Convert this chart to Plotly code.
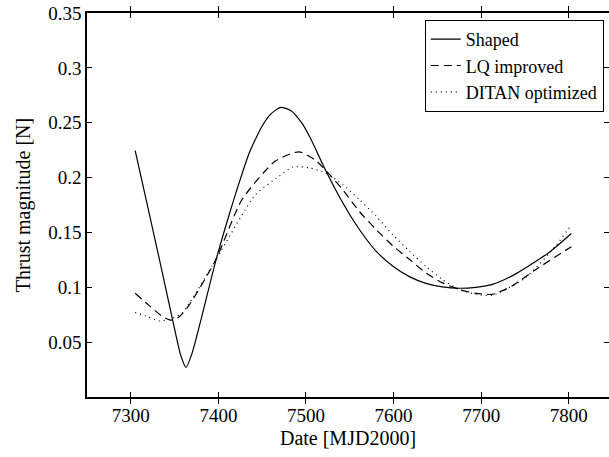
import plotly.graph_objects as go

# Shaped
shaped_x = [7305, 7320, 7335, 7350, 7357, 7363, 7370, 7380, 7397, 7410, 7420, 7435, 7450, 7460, 7471, 7483, 7495,
            7505, 7523, 7542, 7561, 7580, 7599, 7618, 7637, 7656, 7675, 7694, 7713, 7739, 7778, 7803]
shaped_y = [0.2245, 0.171, 0.117, 0.062, 0.038, 0.027, 0.040, 0.070, 0.124, 0.160, 0.186, 0.222, 0.247, 0.258, 0.264, 0.261, 0.250,
            0.236, 0.2057, 0.177, 0.1527, 0.133, 0.1194, 0.1097, 0.1036, 0.1003, 0.0991, 0.100, 0.1027, 0.112, 0.132, 0.149]

# LQ improved
lq_x = [7305, 7320, 7335, 7345, 7355, 7366, 7397, 7427, 7465, 7492, 7511, 7527, 7542, 7561, 7580, 7599, 7618,
        7637, 7656, 7675, 7694, 7713, 7735, 7762, 7803]
lq_y = [0.0945, 0.084, 0.074, 0.070, 0.073, 0.083, 0.125, 0.180, 0.215, 0.2235, 0.2157, 0.2027, 0.189, 0.169, 0.1527, 0.138, 0.1255,
        0.113, 0.104, 0.098, 0.0945, 0.0936, 0.101, 0.116, 0.137]

# DITAN optimized
ditan_x = [7305, 7320, 7332, 7345, 7359, 7397, 7442, 7469, 7485, 7504, 7523, 7542, 7561, 7580, 7599, 7618,
           7637, 7656, 7675, 7694, 7713, 7751, 7785, 7803]
ditan_y = [0.077, 0.073, 0.0694, 0.071, 0.077, 0.125, 0.184, 0.201, 0.2097, 0.2088, 0.204, 0.1936, 0.180, 0.165, 0.148, 0.133,
           0.119, 0.107, 0.098, 0.0936, 0.0927, 0.109, 0.1375, 0.157]

x_ticks = [7300, 7400, 7500, 7600, 7700, 7800]
y_ticks = [0.05, 0.1, 0.15, 0.2, 0.25, 0.3, 0.35]
y_ticklabels = ["0.05", "0.1", "0.15", "0.2", "0.25", "0.3", "0.35"]

font_family = "Times New Roman, Liberation Serif, DejaVu Serif, serif"

line_common = dict(color="black", width=1.2, shape="spline", smoothing=0.6)

fig = go.Figure()
fig.add_trace(go.Scatter(x=shaped_x, y=shaped_y, mode="lines", name="Shaped",
                         line=dict(**line_common)))
fig.add_trace(go.Scatter(x=lq_x, y=lq_y, mode="lines", name="LQ improved",
                         line=dict(**line_common, dash="8px,5px")))
fig.add_trace(go.Scatter(x=ditan_x, y=ditan_y, mode="lines", name="DITAN optimized",
                         line=dict(**line_common, dash="1px,4px")))
# invisible trace to carry right-side ticks
fig.add_trace(go.Scatter(x=[7300], y=[0.1], mode="markers", marker=dict(opacity=0),
                         yaxis="y2", showlegend=False, hoverinfo="skip"))

fig.update_layout(
    width=609, height=457,
    margin=dict(l=87, r=0, t=13, b=60),
    paper_bgcolor="white", plot_bgcolor="white",
    font=dict(family=font_family, size=19, color="black"),
    showlegend=True,
    legend=dict(x=0.990, xanchor="right", y=0.982, yanchor="top",
                bordercolor="black", borderwidth=1, bgcolor="white",
                font=dict(family=font_family, size=18, color="black"),
                tracegroupgap=0),
    xaxis=dict(range=[7250, 7846], tickvals=x_ticks, ticks="inside", ticklen=5,
               tickcolor="black", showline=True, linecolor="black", linewidth=1.5,
               mirror="allticks", showgrid=False, zeroline=False,
               title=dict(text="Date [MJD2000]", standoff=6, font=dict(size=20)),
               tickfont=dict(size=19)),
    yaxis=dict(range=[0, 0.35], tickvals=y_ticks, ticktext=y_ticklabels, ticks="inside",
               ticklen=5, tickcolor="black", showline=True, linecolor="black", linewidth=1.5,
               mirror=False, showgrid=False, zeroline=False,
               title=dict(text="Thrust magnitude [N]", standoff=12, font=dict(size=20)),
               tickfont=dict(size=19)),
    yaxis2=dict(range=[0, 0.35], tickvals=y_ticks, ticks="inside", ticklen=5, tickcolor="black",
                overlaying="y", side="right", showline=False, showgrid=False, zeroline=False,
                showticklabels=False),
)

fig.write_html("out.html")
